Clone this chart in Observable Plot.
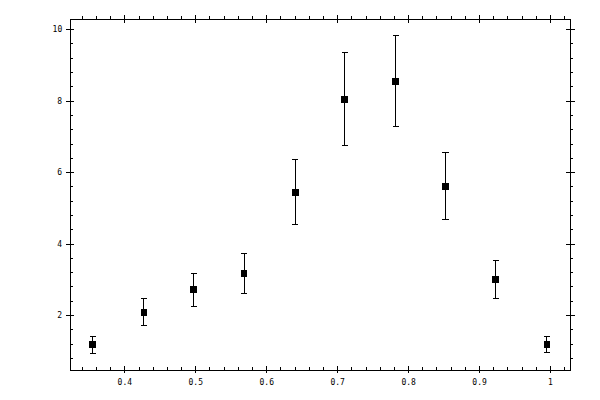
<!DOCTYPE html>
<html>
<head>
<meta charset="utf-8">
<script src="https://cdn.jsdelivr.net/npm/d3@7"></script>
<script src="https://cdn.jsdelivr.net/npm/@observablehq/plot@0.6"></script>
<style>
  html, body { margin: 0; padding: 0; background: #fff; }
  #chart svg { display: block; }
</style>
</head>
<body>
<div id="chart"></div>
<script>
// Data
const xValues = [0.355, 0.427, 0.497, 0.568, 0.640, 0.710, 0.782, 0.852, 0.923, 0.995];
const yValues = [1.19, 2.08, 2.72, 3.17, 5.43, 8.04, 8.54, 5.60, 3.00, 1.19];
const yLow    = [0.93, 1.71, 2.24, 2.61, 4.54, 6.75, 7.28, 4.68, 2.47, 0.96];
const yHigh   = [1.40, 2.47, 3.17, 3.73, 6.36, 9.36, 9.83, 6.55, 3.54, 1.40];

const xMajorTicks = [0.4, 0.5, 0.6, 0.7, 0.8, 0.9, 1.0];
const xTickLabels = ["0.4", "0.5", "0.6", "0.7", "0.8", "0.9", "1"];
const xMinorTicks = [0.34, 0.36, 0.38, 0.42, 0.44, 0.46, 0.48, 0.52, 0.54, 0.56, 0.58,
                     0.62, 0.64, 0.66, 0.68, 0.72, 0.74, 0.76, 0.78, 0.82, 0.84, 0.86, 0.88,
                     0.92, 0.94, 0.96, 0.98, 1.02];
const yMajorTicks = [2, 4, 6, 8, 10];
const yTickLabels = ["2", "4", "6", "8", "10"];
const yMinorTicks = [0.8, 1.2, 1.6, 2.4, 2.8, 3.2, 3.6, 4.4, 4.8, 5.2, 5.6,
                     6.4, 6.8, 7.2, 7.6, 8.4, 8.8, 9.2, 9.6];

const xDomain = [0.323, 1.0286];
const yDomain = [0.46, 10.277];

const data = xValues.map((x, i) => ({x, y: yValues[i], lo: yLow[i], hi: yHigh[i]}));

const W = 600, H = 400;
const mL = 69.7, mR = 29.7, mT = 19.3, mB = 30;
const PW = W - mL - mR, PH = H - mT - mB;

const capSymbol = {
  draw(ctx, size) {
    const w = Math.sqrt(size);
    ctx.moveTo(-w / 2, 0);
    ctx.lineTo(w / 2, 0);
  }
};

const font = "'DejaVu Sans Mono', monospace";

const chart = Plot.plot({
  width: W,
  height: H,
  marginLeft: mL, marginRight: mR, marginTop: mT, marginBottom: mB,
  x: {domain: xDomain, axis: null},
  y: {domain: yDomain, axis: null},
  style: {background: "#fff", fontFamily: font, fontSize: "8px", shapeRendering: "crispEdges"},
  marks: [
    Plot.frame({stroke: "black", strokeWidth: 1}),
    // bottom axis ticks
    Plot.tickX(xMajorTicks, {x: d => d, stroke: "black", insetTop: PH - 4, insetBottom: -3}),
    Plot.tickX(xMinorTicks, {x: d => d, stroke: "black", insetTop: PH - 3, insetBottom: 0}),
    // top axis ticks
    Plot.tickX(xMajorTicks, {x: d => d, stroke: "black", insetTop: -4, insetBottom: PH - 4}),
    Plot.tickX(xMinorTicks, {x: d => d, stroke: "black", insetTop: -3, insetBottom: PH}),
    // left axis ticks
    Plot.tickY(yMajorTicks, {y: d => d, stroke: "black", insetLeft: -4, insetRight: PW - 4}),
    Plot.tickY(yMinorTicks, {y: d => d, stroke: "black", insetLeft: 0, insetRight: PW - 3.5}),
    // right axis ticks
    Plot.tickY(yMajorTicks, {y: d => d, stroke: "black", insetLeft: PW - 4.5, insetRight: -4.5}),
    Plot.tickY(yMinorTicks, {y: d => d, stroke: "black", insetLeft: PW, insetRight: -3}),
    // tick labels
    Plot.text(xMajorTicks, {x: d => d, text: (d, i) => xTickLabels[i], frameAnchor: "bottom",
      dy: 11.7, lineAnchor: "middle", fill: "black", fontFamily: font, fontSize: 8}),
    Plot.text(yMajorTicks, {y: d => d, text: (d, i) => yTickLabels[i], frameAnchor: "left",
      dx: -8, textAnchor: "end", lineAnchor: "middle", fill: "black", fontFamily: font, fontSize: 8}),
    // error bars
    Plot.ruleX(data, {x: "x", y1: "lo", y2: "hi", stroke: "black", strokeWidth: 1}),
    Plot.dot(data, {x: "x", y: "lo", symbol: capSymbol, r: 3.4, stroke: "black", fill: "none", strokeWidth: 1}),
    Plot.dot(data, {x: "x", y: "hi", symbol: capSymbol, r: 3.4, stroke: "black", fill: "none", strokeWidth: 1}),
    // markers
    Plot.dot(data, {x: "x", y: "y", symbol: "square", r: 3.9, fill: "black", stroke: "none"})
  ]
});

document.getElementById("chart").appendChild(chart);
</script>
</body>
</html>
